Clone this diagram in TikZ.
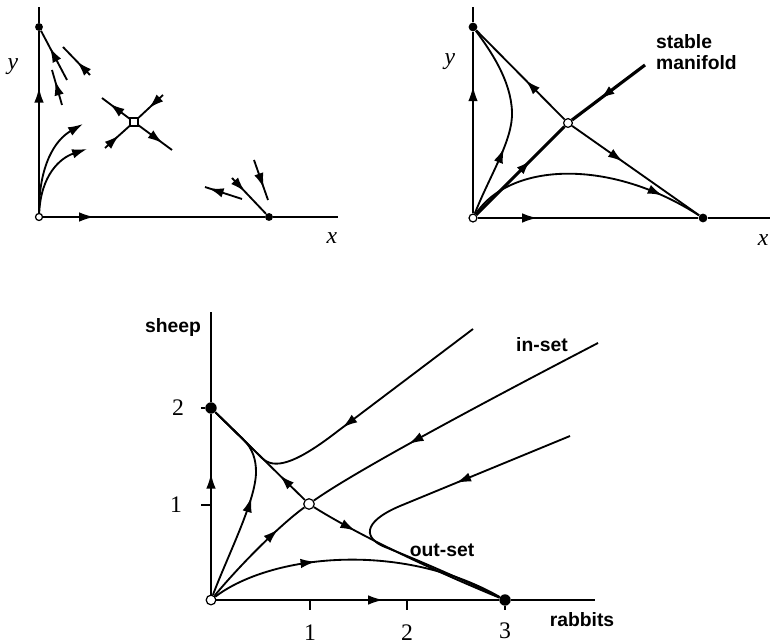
\documentclass[tikz,border=0pt]{standalone}
\usepackage{fontspec}
\setmainfont{Liberation Serif}
\newfontfamily\labelfont{Liberation Sans}
\usetikzlibrary{arrows.meta,decorations.markings}

\tikzset{
    axis/.style={line width=0.9pt},
    traj/.style={line width=1.05pt},
    thicktraj/.style={line width=1.8pt},
    midarrow/.style={postaction={decorate},
        decoration={markings, mark=at position #1 with {\arrow{Latex[length=8.5pt,width=5.4pt]}}}},
    fixpt/.style={circle, fill=black, inner sep=0pt, minimum size=#1},
    openpt/.style={circle, draw, fill=white, line width=0.7pt, inner sep=0pt, minimum size=#1},
    word/.style={font=\labelfont\bfseries\fontsize{11}{12}\selectfont},
    num/.style={font=\fontsize{13.5}{15}\selectfont},
}

\begin{document}
\begin{tikzpicture}[x=0.02cm, y=-0.02cm]
    \useasboundingbox (0,0) rectangle (770,644);

    % Top left: local pictures
    \node[openpt=4pt] (a0) at (39,217) {};
    \node[fixpt=4.5pt] (ay) at (39,27) {};
    \node[fixpt=4.5pt] (ax) at (269,217) {};
    \node[draw, fill=white, inner sep=0pt, minimum size=4.5pt, line width=0.7pt] (as) at (134,122) {};
    \coordinate (atop) at (39,7);
    \coordinate (axend) at (338,217);
    \draw[axis, midarrow=0.69] (a0) -- (ay);
    \draw[axis] (ay) -- (atop);
    \draw[axis, midarrow=0.23] (a0) -- (ax);
    \draw[axis] (ax) -- (axend);
    \draw[traj, midarrow=0.66] (67,80) -- (ay);
    \draw[traj, midarrow=0.48] (90,75) -- (63,47);
    \draw[traj, midarrow=0.7] (62,105) -- (52,70);
    \draw[traj, midarrow=0.72] (as) -- (102,98);
    \draw[traj, midarrow=0.72] (as) -- (172,150);
    \draw[traj, midarrow=0.58] (163,95) -- (as);
    \draw[traj, midarrow=0.58] (105,148) -- (as);
    \draw[traj, -{Latex[length=8.5pt,width=5.4pt]}] (a0) .. controls (39,165) and (55,140) .. (83,124);
    \draw[traj, -{Latex[length=8.5pt,width=5.4pt]}] (a0) .. controls (41,175) and (60,158) .. (87,149);
    \draw[traj, midarrow=0.9] (242,199) -- (205,187);
    \draw[traj, midarrow=0.38] (232,178) -- (ax);
    \draw[traj, midarrow=0.7] (254,160) -- (268,200);
    \node[num] (ylblA) at (13,67) {\textit{y}};
    \node[num] (xlblA) at (332,238) {\textit{x}};

    % Top right: saddle and stable manifold
    \node[openpt=4.5pt] (b0) at (473,218) {};
    \node[fixpt=5pt] (by) at (473,27) {};
    \node[fixpt=5pt] (bx) at (703,218) {};
    \node[openpt=5pt] (bs) at (568,123) {};
    \coordinate (btop) at (473,7);
    \coordinate (bxend) at (780,218);
    \coordinate (bman) at (645,65);
    \draw[axis, midarrow=0.7] (b0) -- (by);
    \draw[axis] (by) -- (btop);
    \draw[axis, midarrow=0.27] (b0) -- (bx);
    \draw[axis] (bx) -- (bxend);
    \draw[traj, midarrow=0.44] (bs) -- (by);
    \draw[traj, midarrow=0.4] (bs) -- (bx);
    \draw[thicktraj, midarrow=0.62] (b0) -- (bs);
    \draw[thicktraj, midarrow=0.62] (bman) -- (bs);
    \draw[traj, midarrow=0.36] (b0) .. controls (490,175) and (513,140) .. (512,112)
        .. controls (511,80) and (490,50) .. (by);
    \draw[traj, midarrow=0.83] (b0) .. controls (510,162) and (610,158) .. (bx);
    \node[num] (ylblB) at (450,62) {\textit{y}};
    \node[num] (xlblB) at (763,240) {\textit{x}};
    \node[word, align=left, anchor=west] (manlbl) at (650,52) {stable\\manifold};

    % Bottom: rabbits and sheep
    \node[openpt=5.5pt] (c0) at (211,600) {};
    \node[fixpt=6.5pt] (cy) at (211,408) {};
    \node[fixpt=6.5pt] (cx) at (505,600) {};
    \node[openpt=6pt] (cs) at (309,504) {};
    \coordinate (ctop) at (211,312);
    \coordinate (cxend) at (595,600);
    \coordinate (cman) at (598,343);
    \coordinate (cin1) at (473,329);
    \coordinate (cin3) at (570,436);
    \draw[axis, midarrow=0.67] (c0) -- (cy);
    \draw[axis] (cy) -- (ctop);
    \draw[axis, midarrow=0.59] (c0) -- (cx);
    \draw[axis] (cx) -- (cxend);
    \foreach \t/\lab in {310/1, 407/2} {
        \draw[axis] (\t,600) -- (\t,610);
        \node[num] (xt\lab) at (\t,633) {\lab};
    }
    \draw[axis] (cx) -- (505,610);
    \node[num] (xt3) at (505,631) {3};
    \draw[axis] (201,505) -- (211,505);
    \draw[axis] (201,408) -- (cy);
    \node[num] (yt1) at (176,505) {1};
    \node[num] (yt2) at (178,408) {2};

    \draw[traj, midarrow=0.28] (cs) -- (cy);
    \draw[traj, midarrow=0.23] (cs) .. controls (350,530) and (420,565) .. (cx);
    \draw[traj, midarrow=0.73] (c0) .. controls (240,565) and (280,525) .. (cs);
    \draw[traj, midarrow=0.66] (cman) .. controls (450,420) and (350,475) .. (cs);
    \draw[traj, midarrow=0.51] (cin1) -- (330,437) .. controls (295,463) and (274,470) .. (262,458) -- (cy);
    \draw[traj, midarrow=0.51] (c0) .. controls (228,555) and (256,500) .. (256,472)
        .. controls (256,460) and (253,449) .. (243,439) -- (cy);
    \draw[traj, midarrow=0.33] (cin3) -- (400,506) .. controls (360,523) and (365,539) .. (385,547)
        .. controls (425,563) and (470,583) .. (cx);
    \draw[traj, midarrow=0.36] (c0) .. controls (270,555) and (400,540) .. (cx);

    \node[word] (sheeplbl) at (173,328) {sheep};
    \node[word] (rabbitslbl) at (582,620) {rabbits};
    \node[word] (insetlbl) at (542,345) {in-set};
    \node[word] (outsetlbl) at (442,550) {out-set};
\end{tikzpicture}
\end{document}
